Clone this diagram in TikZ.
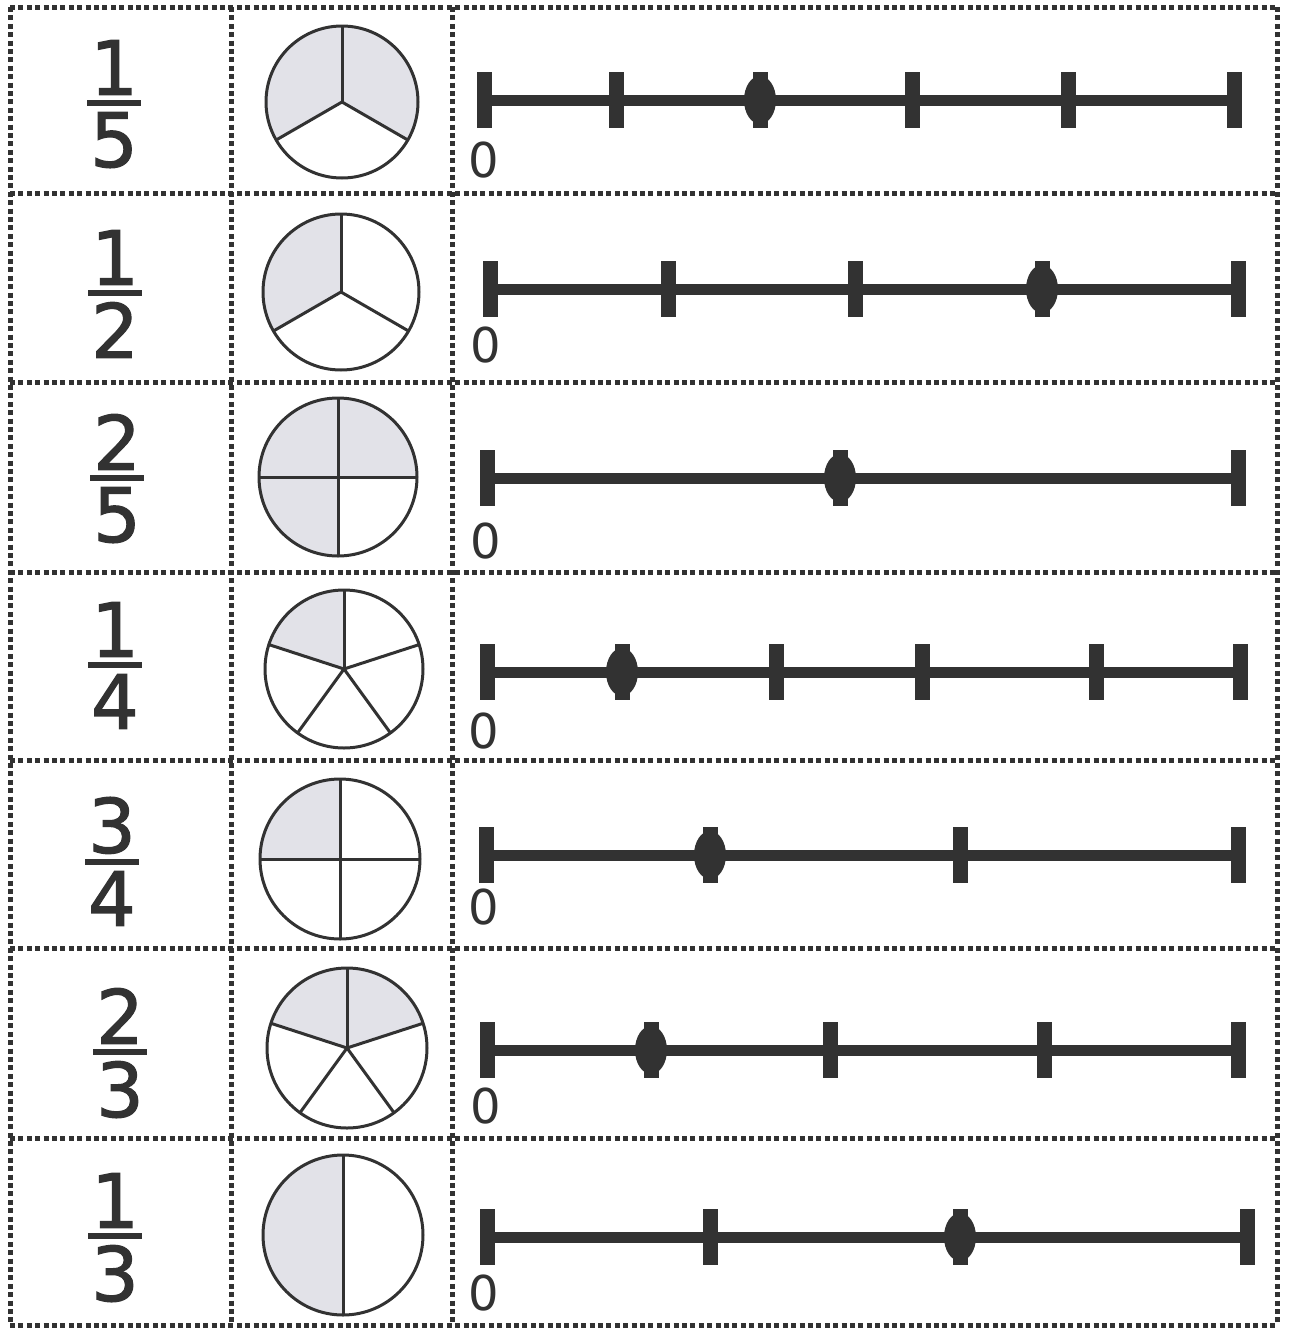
\documentclass[tikz,border=0pt]{standalone}
\usepackage{fontspec}
\setmainfont{DejaVu Sans}
\newfontfamily\fracfont{DejaVu Sans}[RawFeature={embolden=1.6}]
\usetikzlibrary{positioning}
\definecolor{ink}{RGB}{50,50,50}
\definecolor{pielight}{RGB}{226,226,232}

\begin{document}
\begin{tikzpicture}[x=1pt, y=-1pt,
    cell/.style = {ink, line width=5pt, dash pattern=on 5pt off 3.4pt},
    numline/.style = {ink, line width=11pt},
    notch/.style = {ink, line width=15pt},
    wedge/.style = {fill=pielight},
    rim/.style = {draw=ink, line width=3pt},
    digit/.style = {inner sep=0pt, text=ink, font=\fracfont\fontsize{75}{75}\selectfont},
    zero/.style = {inner sep=0pt, text=ink, font=\fontsize{48}{48}\selectfont},
    fracbar/.style = {ink, line width=6pt},
    dot/.style = {fill=ink}]

    \useasboundingbox (0,0) rectangle (1288,1328);

    % table
    \foreach \y in {7,193,382,572,760,948,1138,1325} \draw[cell] (10,\y) -- (1277,\y);
    \foreach \x in {10,231,452,1277} \draw[cell] (\x,7) -- (\x,1325);

    % fractions
    \coordinate (b1) at (114,103);
    \node[digit, above=8pt of b1] (n1) {1};
    \node[digit, below=9pt of b1] (d1) {5};
    \draw[fracbar] ([xshift=-27pt]b1) -- ([xshift=27pt]b1);

    \coordinate (b2) at (115,293);
    \node[digit, above=8pt of b2] (n2) {1};
    \node[digit, below=9pt of b2] (d2) {2};
    \draw[fracbar] ([xshift=-27pt]b2) -- ([xshift=27pt]b2);

    \coordinate (b3) at (117,478);
    \node[digit, above=8pt of b3] (n3) {2};
    \node[digit, below=9pt of b3] (d3) {5};
    \draw[fracbar] ([xshift=-27pt]b3) -- ([xshift=27pt]b3);

    \coordinate (b4) at (115,665);
    \node[digit, above=8pt of b4] (n4) {1};
    \node[digit, below=9pt of b4] (d4) {4};
    \draw[fracbar] ([xshift=-27pt]b4) -- ([xshift=27pt]b4);

    \coordinate (b5) at (112,862);
    \node[digit, above=8pt of b5] (n5) {3};
    \node[digit, below=9pt of b5] (d5) {4};
    \draw[fracbar] ([xshift=-27pt]b5) -- ([xshift=27pt]b5);

    \coordinate (b6) at (120,1052);
    \node[digit, above=8pt of b6] (n6) {2};
    \node[digit, below=9pt of b6] (d6) {3};
    \draw[fracbar] ([xshift=-27pt]b6) -- ([xshift=27pt]b6);

    \coordinate (b7) at (115,1236);
    \node[digit, above=8pt of b7] (n7) {1};
    \node[digit, below=9pt of b7] (d7) {3};
    \draw[fracbar] ([xshift=-27pt]b7) -- ([xshift=27pt]b7);

    % circles
    \begin{scope}[shift={(342,102)}, y=1pt]
        \fill[wedge] (0,0) -- (-30:76) arc[start angle=-30, end angle=210, radius=76] -- cycle;
        \draw[rim] (0,0) circle[radius=76];
        \foreach \a in {90,210,330} \draw[rim] (0,0) -- (\a:76);
    \end{scope}

    \begin{scope}[shift={(341,292)}, y=1pt]
        \fill[wedge] (0,0) -- (90:78) arc[start angle=90, end angle=210, radius=78] -- cycle;
        \draw[rim] (0,0) circle[radius=78];
        \foreach \a in {90,210,330} \draw[rim] (0,0) -- (\a:78);
    \end{scope}

    \begin{scope}[shift={(338,477)}, y=1pt]
        \fill[wedge] (0,0) -- (0:79) arc[start angle=0, end angle=270, radius=79] -- cycle;
        \draw[rim] (0,0) circle[radius=79];
        \draw[rim] (-79,0) -- (79,0);
        \draw[rim] (0,-79) -- (0,79);
    \end{scope}

    \begin{scope}[shift={(344,669)}, y=1pt]
        \fill[wedge] (0,0) -- (90:79) arc[start angle=90, end angle=162, radius=79] -- cycle;
        \draw[rim] (0,0) circle[radius=79];
        \foreach \a in {90,18,-54,-126,162} \draw[rim] (0,0) -- (\a:79);
    \end{scope}

    \begin{scope}[shift={(340,859)}, y=1pt]
        \fill[wedge] (0,0) -- (90:80) arc[start angle=90, end angle=180, radius=80] -- cycle;
        \draw[rim] (0,0) circle[radius=80];
        \draw[rim] (-80,0) -- (80,0);
        \draw[rim] (0,-80) -- (0,80);
    \end{scope}

    \begin{scope}[shift={(347,1048)}, y=1pt]
        \fill[wedge] (0,0) -- (18:80) arc[start angle=18, end angle=162, radius=80] -- cycle;
        \draw[rim] (0,0) circle[radius=80];
        \foreach \a in {90,18,-54,-126,162} \draw[rim] (0,0) -- (\a:80);
    \end{scope}

    \begin{scope}[shift={(343,1235)}, y=1pt]
        \fill[wedge] (0,0) -- (90:80) arc[start angle=90, end angle=270, radius=80] -- cycle;
        \draw[rim] (0,0) circle[radius=80];
        \draw[rim] (0,-80) -- (0,80);
    \end{scope}

    % number lines
    \coordinate (s1) at (484,100);
    \coordinate (e1) at (1234,100);
    \draw[numline] (s1) -- (e1);
    \foreach \x in {484,616,760,912,1068,1234} \draw[notch] (\x,72) -- (\x,128);
    \fill[dot] (760,100) ellipse[x radius=16pt, y radius=24pt];
    \node[zero] (z1) at (484,160) {0};

    \coordinate (s2) at (490,289);
    \coordinate (e2) at (1238,289);
    \draw[numline] (s2) -- (e2);
    \foreach \x in {490,668,855,1042,1238} \draw[notch] (\x,261) -- (\x,317);
    \fill[dot] (1042,289) ellipse[x radius=16pt, y radius=24pt];
    \node[zero] (z2) at (486,345) {0};

    \coordinate (s3) at (487,478);
    \coordinate (e3) at (1238,478);
    \draw[numline] (s3) -- (e3);
    \foreach \x in {487,840,1238} \draw[notch] (\x,450) -- (\x,506);
    \fill[dot] (840,478) ellipse[x radius=16pt, y radius=24pt];
    \node[zero] (z3) at (486,541) {0};

    \coordinate (s4) at (487,672);
    \coordinate (e4) at (1240,672);
    \draw[numline] (s4) -- (e4);
    \foreach \x in {487,622,776,922,1096,1240} \draw[notch] (\x,644) -- (\x,700);
    \fill[dot] (622,672) ellipse[x radius=16pt, y radius=24pt];
    \node[zero] (z4) at (484,731) {0};

    \coordinate (s5) at (486,855);
    \coordinate (e5) at (1238,855);
    \draw[numline] (s5) -- (e5);
    \foreach \x in {486,710,960,1238} \draw[notch] (\x,827) -- (\x,883);
    \fill[dot] (710,855) ellipse[x radius=16pt, y radius=24pt];
    \node[zero] (z5) at (484,907) {0};

    \coordinate (s6) at (487,1050);
    \coordinate (e6) at (1238,1050);
    \draw[numline] (s6) -- (e6);
    \foreach \x in {487,651,830,1044,1238} \draw[notch] (\x,1022) -- (\x,1078);
    \fill[dot] (651,1050) ellipse[x radius=16pt, y radius=24pt];
    \node[zero] (z6) at (486,1106) {0};

    \coordinate (s7) at (487,1237);
    \coordinate (e7) at (1247,1237);
    \draw[numline] (s7) -- (e7);
    \foreach \x in {487,710,960,1247} \draw[notch] (\x,1209) -- (\x,1265);
    \fill[dot] (960,1237) ellipse[x radius=16pt, y radius=24pt];
    \node[zero] (z7) at (484,1293) {0};

\end{tikzpicture}
\end{document}
